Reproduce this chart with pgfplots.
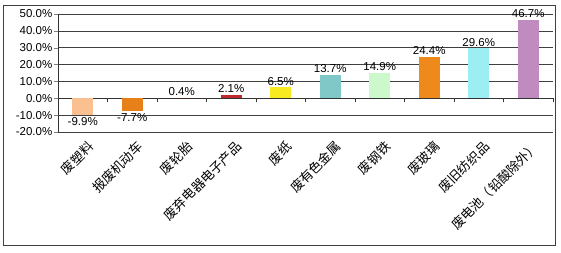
\documentclass[border=0pt]{standalone}
\usepackage{pgfplots}
\pgfplotsset{compat=1.18}
\usepackage{fontspec}
\setmainfont{Liberation Sans}
\newfontfamily\cjk{Noto Sans CJK SC}
\definecolor{c1}{HTML}{FAC090}
\definecolor{c2}{HTML}{E8801A}
\definecolor{c3}{HTML}{3A2A22}
\definecolor{c4}{HTML}{C0282D}
\definecolor{c5}{HTML}{F8EC20}
\definecolor{c6}{HTML}{80C8C8}
\definecolor{c7}{HTML}{CCF8CC}
\definecolor{c8}{HTML}{EE8A1C}
\definecolor{c9}{HTML}{9CEEF2}
\definecolor{c10}{HTML}{C08CC0}
\begin{document}
\begin{tikzpicture}[x=1pt,y=1pt]
\path (0,0) rectangle (561,253);
\draw[line width=0.8pt, black!75] (3,8) rectangle (555,248);
\begin{axis}[
  at={(58pt,121pt)}, anchor=south west,
  scale only axis, width=495pt, height=118pt,
  xmin=0.5, xmax=10.5, ymin=-20, ymax=50,
  axis x line=middle, axis y line=left,
  axis line style={-, black!80, line width=0.6pt},
  ytick={-20,-10,...,50},
  ymajorgrids, grid style={black!75, line width=0.5pt},
  /pgf/number format/assume math mode=true,
  yticklabel={\pgfmathprintnumber[fixed,fixed zerofill,precision=1]{\tick}\%},
  yticklabel style={font=\fontsize{11.5}{13}\selectfont, inner sep=1.5pt},
  tick align=outside,
  major tick length=4pt, minor tick length=4pt,
  xtick={1,...,10},
  major x tick style={draw=none},
  minor xtick={0.5,1.5,...,10.5},
  minor x tick style={black!80, line width=0.6pt},
  xticklabels={废塑料,报废机动车,废轮胎,废弃电器电子产品,废纸,废有色金属,废钢铁,废玻璃,废旧纺织品,废电池（铅酸除外）},
  xticklabel style={font=\cjk\fontsize{13}{14}\selectfont, yshift=-36pt, xshift=4pt, rotate=45, anchor=north east, inner sep=1pt},
  nodes near coords={\pgfmathprintnumber[fixed,fixed zerofill,precision=1]{\pgfplotspointmeta}\%},
  every node near coord/.append style={font=\fontsize{11.5}{13}\selectfont, text=black, inner sep=2pt},
  bb/.style={ybar, bar width=21pt, bar shift=0pt, draw=none},
]
\addplot[bb, fill=c1] coordinates {(1,-9.9)};
\addplot[bb, fill=c2] coordinates {(2,-7.7)};
\addplot[bb, fill=c3] coordinates {(3,0.4)};
\addplot[bb, fill=c4] coordinates {(4,2.1)};
\addplot[bb, fill=c5] coordinates {(5,6.5)};
\addplot[bb, fill=c6] coordinates {(6,13.7)};
\addplot[bb, fill=c7] coordinates {(7,14.9)};
\addplot[bb, fill=c8] coordinates {(8,24.4)};
\addplot[bb, fill=c9] coordinates {(9,29.6)};
\addplot[bb, fill=c10] coordinates {(10,46.7)};
\end{axis}
\end{tikzpicture}
\end{document}
